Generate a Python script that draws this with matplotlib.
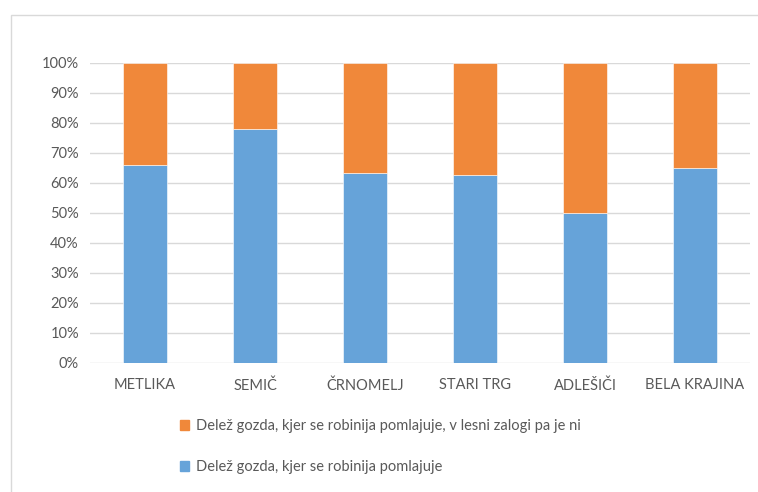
import matplotlib
matplotlib.use('Agg')
import matplotlib.pyplot as plt
from matplotlib.patches import Rectangle, Patch
import numpy as np

categories = ['METLIKA', 'SEMIČ', 'ČRNOMELJ', 'STARI TRG', 'ADLEŠIČI', 'BELA KRAJINA']
regen = [66, 78, 63.3, 62.7, 50, 65]          # blue, %
not_stock = [100 - v for v in regen]          # orange, %
label_blue = 'Delež gozda, kjer se robinija pomlajuje'
label_orange = 'Delež gozda, kjer se robinija pomlajuje, v lesni zalogi pa je ni'

blue = '#66A3D9'
orange = '#F0883A'
text_col = '#595959'

plt.rcParams['font.family'] = ['Lato', 'DejaVu Sans']

fig = plt.figure(figsize=(7.58, 4.92), dpi=100)
ax = fig.add_axes([90 / 758, 129 / 492, 660 / 758, 300 / 492])

# outer chart frame (partly off the image)
fig.patches.append(Rectangle((11 / 758, -0.1), 1.2, 1 - 15 / 492 + 0.1,
                             transform=fig.transFigure, fill=False,
                             edgecolor='#D9D9D9', linewidth=1))

x = np.arange(len(categories))
ax.bar(x, regen, width=0.4, color=blue, edgecolor='white', linewidth=0.4, zorder=3)
ax.bar(x, not_stock, width=0.4, bottom=regen, color=orange, edgecolor='white',
       linewidth=0.4, zorder=3)

ax.set_xlim(-0.5, len(categories) - 0.5)
ax.set_ylim(0, 100)
ax.set_yticks(np.arange(0, 101, 10))
ax.set_yticklabels([f'{v}%' for v in range(0, 101, 10)])
ax.set_xticks(x)
ax.set_xticklabels(categories)
ax.grid(axis='y', color='#D9D9D9', linewidth=1, zorder=0)
for s in ax.spines.values():
    s.set_visible(False)
ax.tick_params(length=0, labelsize=10.5, colors=text_col)
ax.tick_params(axis='x', pad=11)
ax.tick_params(axis='y', pad=8)

handles = [Patch(color=orange, label=label_orange), Patch(color=blue, label=label_blue)]
fig.legend(handles=handles, loc='upper left', bbox_to_anchor=(167 / 758, 1 - 406 / 492),
           frameon=False, fontsize=10.5, labelcolor=text_col, handlelength=0.6,
           handleheight=0.6, handletextpad=0.5, labelspacing=1.85)

fig.savefig('out.png', dpi=100)
